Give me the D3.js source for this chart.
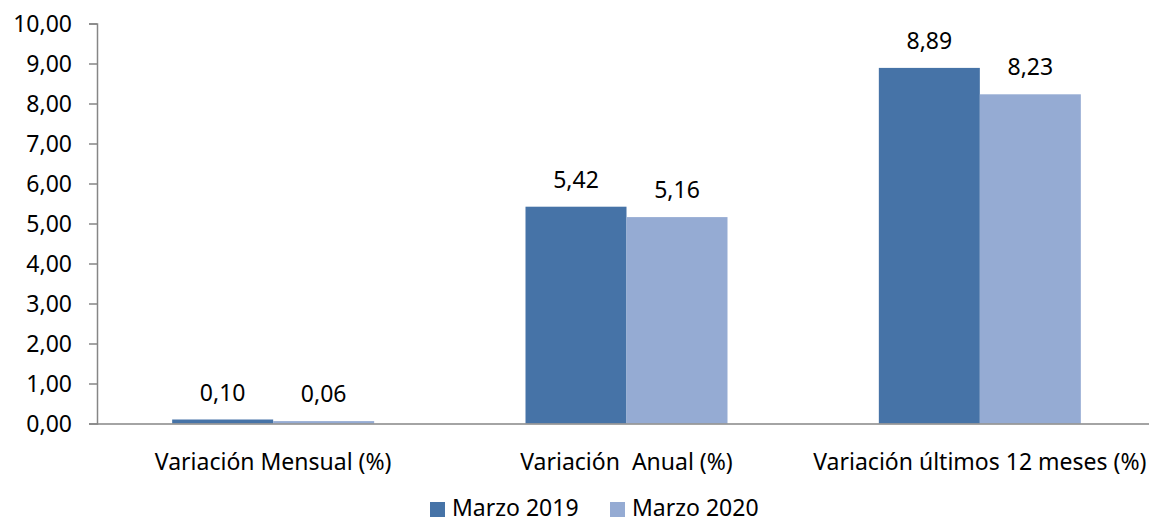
<!DOCTYPE html>
<html>
<head>
<meta charset="utf-8">
<script src="https://cdn.jsdelivr.net/npm/d3@7"></script>
<style>
  body { margin: 0; background: #fff; }
  svg { display: block; font-family: "Noto Sans", sans-serif; }
</style>
</head>
<body>
<svg width="1149" height="523"></svg>
<script>
// chart data
var categories = ["Variación Mensual (%)", "Variación  Anual (%)", "Variación últimos 12 meses (%)"];
var seriesNames = ["Marzo 2019", "Marzo 2020"];
var marzo2019 = [0.10, 5.42, 8.89];
var marzo2020 = [0.06, 5.16, 8.23];
var yTicks = [0, 1, 2, 3, 4, 5, 6, 7, 8, 9, 10];
var colors = ["#4673a7", "#95abd3"];

var svg = d3.select("svg"),
  fmt = function(v) { return d3.format(".2f")(v).replace(".", ","); };

var x = d3.scaleBand().domain(categories).range([96.5, 1156.5]);
var y = d3.scaleLinear().domain([0, 10]).range([423.5, 23.5]);
var groupWidth = 202;
var xs = d3.scaleBand().domain(seriesNames).range([0, groupWidth]);

// y axis
var yAxis = svg.append("g")
  .attr("transform", "translate(97,0)")
  .call(d3.axisLeft(y).tickValues(yTicks).tickSize(8).tickPadding(17).tickFormat(fmt));
yAxis.select(".domain").attr("stroke", "#868686").attr("stroke-width", 1.5);
yAxis.selectAll(".tick line").attr("stroke", "#868686").attr("stroke-width", 1.5);
yAxis.selectAll(".tick text").attr("font-size", 23).attr("fill", "#000")
  .attr("font-family", "Noto Sans").attr("dy", "0.36em");

// bars
var rows = categories.map(function(c, i) {
  return { cat: c, values: [marzo2019[i], marzo2020[i]] };
});
var groups = svg.append("g").selectAll("g")
  .data(rows)
  .enter()
  .append("g")
  .attr("transform", function(d) {
    return "translate(" + (x(d.cat) + x.bandwidth() / 2 - groupWidth / 2) + ",0)";
  });

groups.selectAll("rect")
  .data(function(d) { return d.values.map(function(v, j) { return { v: v, s: seriesNames[j], j: j }; }); })
  .enter()
  .append("rect")
  .attr("x", function(d) { return xs(d.s); })
  .attr("width", xs.bandwidth())
  .attr("y", function(d) { return y(d.v); })
  .attr("height", function(d) { return y(0) - y(d.v); })
  .attr("fill", function(d) { return colors[d.j]; });

groups.selectAll("text")
  .data(function(d) { return d.values.map(function(v, j) { return { v: v, s: seriesNames[j] }; }); })
  .enter()
  .append("text")
  .attr("x", function(d) { return xs(d.s) + xs.bandwidth() / 2; })
  .attr("y", function(d) { return y(d.v) - 19; })
  .attr("text-anchor", "middle")
  .attr("font-size", 23)
  .text(function(d) { return fmt(d.v); });

// x axis
var xAxis = svg.append("g")
  .attr("transform", "translate(0,423.5)")
  .call(d3.axisBottom(x).tickSize(0).tickPadding(30));
xAxis.select(".domain").attr("stroke", "#868686").attr("stroke-width", 1.5);
xAxis.selectAll(".tick text").attr("font-size", 23).attr("fill", "#000")
  .attr("font-family", "Noto Sans").style("white-space", "pre");

// legend (nudged up a little so the text is not clipped at the bottom edge)
var legend = svg.append("g").selectAll("g")
  .data(seriesNames)
  .enter()
  .append("g")
  .attr("transform", function(d, i) { return "translate(" + (430 + i * 180) + ",502)"; });
legend.append("rect").attr("width", 15).attr("height", 15)
  .attr("fill", function(d, i) { return colors[i]; });
legend.append("text").attr("x", 22).attr("y", 14).attr("font-size", 23).text(function(d) { return d; });
</script>
</body>
</html>
